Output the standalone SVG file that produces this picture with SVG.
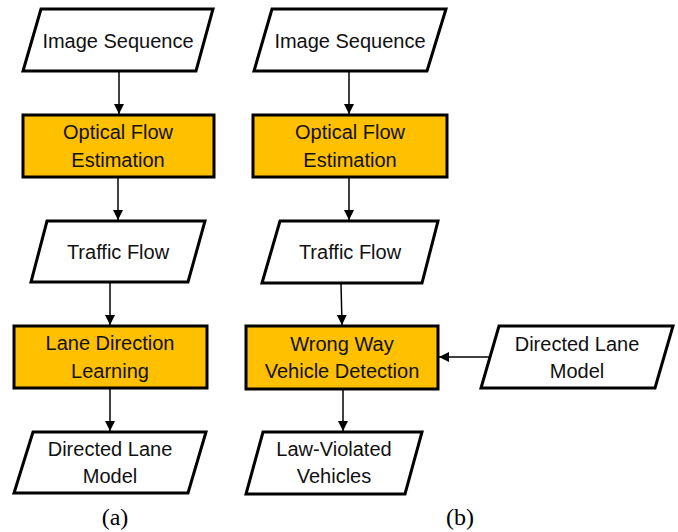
<svg xmlns="http://www.w3.org/2000/svg" width="678" height="532" viewBox="0 0 678 532">
<style>
.io{fill:#fff;stroke:#000;stroke-width:3;stroke-linejoin:miter}
.proc{fill:#FFC000;stroke:#000;stroke-width:3}
.t{font-family:"Liberation Sans",Arial,sans-serif;font-size:20px;fill:#111;text-anchor:middle}
.cap{font-family:"Liberation Serif","Times New Roman",serif;font-size:24px;fill:#000;text-anchor:middle}
.c{stroke:#000;stroke-width:1.5;fill:none;marker-end:url(#ah)}
</style>
<defs>
<marker id="ah" viewBox="0 0 10 10" refX="10" refY="5" markerWidth="10" markerHeight="10" markerUnits="userSpaceOnUse" orient="auto">
<path d="M0,0 L10,5 L0,10 z" fill="#000"/>
</marker>
</defs>
<rect width="678" height="532" fill="#fff"/>
<g id="connectors">
<line class="c" x1="119" y1="72" x2="119" y2="114"/>
<line class="c" x1="118" y1="178" x2="118" y2="220"/>
<line class="c" x1="110" y1="283" x2="110" y2="325"/>
<line class="c" x1="110" y1="389" x2="110" y2="431"/>
<line class="c" x1="349" y1="72" x2="349" y2="114"/>
<line class="c" x1="349" y1="178" x2="349" y2="220"/>
<line class="c" x1="341" y1="283" x2="342" y2="325"/>
<line class="c" x1="343" y1="390" x2="343" y2="431"/>
<line class="c" x1="490" y1="357" x2="439" y2="357"/>
</g>
<g id="a_image_sequence">
<polygon class="io" points="41,9 213,9 196,71 23,71"/>
<text class="t" x="118" y="48">Image Sequence</text>
</g>
<g id="a_optical_flow">
<rect class="proc" x="23" y="115" width="191" height="62"/>
<text class="t" x="118" y="139">Optical Flow</text>
<text class="t" x="118" y="167">Estimation</text>
</g>
<g id="a_traffic_flow">
<polygon class="io" points="47,221 205,221 188,282 31,282"/>
<text class="t" x="118" y="259">Traffic Flow</text>
</g>
<g id="a_lane_direction">
<rect class="proc" x="14" y="326" width="193" height="62"/>
<text class="t" x="110" y="350">Lane Direction</text>
<text class="t" x="110" y="378">Learning</text>
</g>
<g id="a_directed_lane_model">
<polygon class="io" points="33,432 206,432 188,493 14,493"/>
<text class="t" x="110" y="456">Directed Lane</text>
<text class="t" x="110" y="483">Model</text>
</g>
<text class="cap" x="115" y="525">(a)</text>
<g id="b_image_sequence">
<polygon class="io" points="272,9 446,9 427,71 254,71"/>
<text class="t" x="350" y="48">Image Sequence</text>
</g>
<g id="b_optical_flow">
<rect class="proc" x="253" y="115" width="194" height="62"/>
<text class="t" x="350" y="139">Optical Flow</text>
<text class="t" x="350" y="167">Estimation</text>
</g>
<g id="b_traffic_flow">
<polygon class="io" points="280,221 438,221 422,283 262,283"/>
<text class="t" x="350" y="259">Traffic Flow</text>
</g>
<g id="b_wrong_way">
<rect class="proc" x="246" y="326" width="192" height="63"/>
<text class="t" x="342" y="351">Wrong Way</text>
<text class="t" x="342" y="378">Vehicle Detection</text>
</g>
<g id="b_directed_lane_model">
<polygon class="io" points="499,326 673,326 655,388 481,388"/>
<text class="t" x="577" y="351">Directed Lane</text>
<text class="t" x="577" y="378">Model</text>
</g>
<g id="b_law_violated">
<polygon class="io" points="263,432 422,432 405,494 246,494"/>
<text class="t" x="334" y="456">Law-Violated</text>
<text class="t" x="334" y="483">Vehicles</text>
</g>
<text class="cap" x="460" y="525">(b)</text>
</svg>
